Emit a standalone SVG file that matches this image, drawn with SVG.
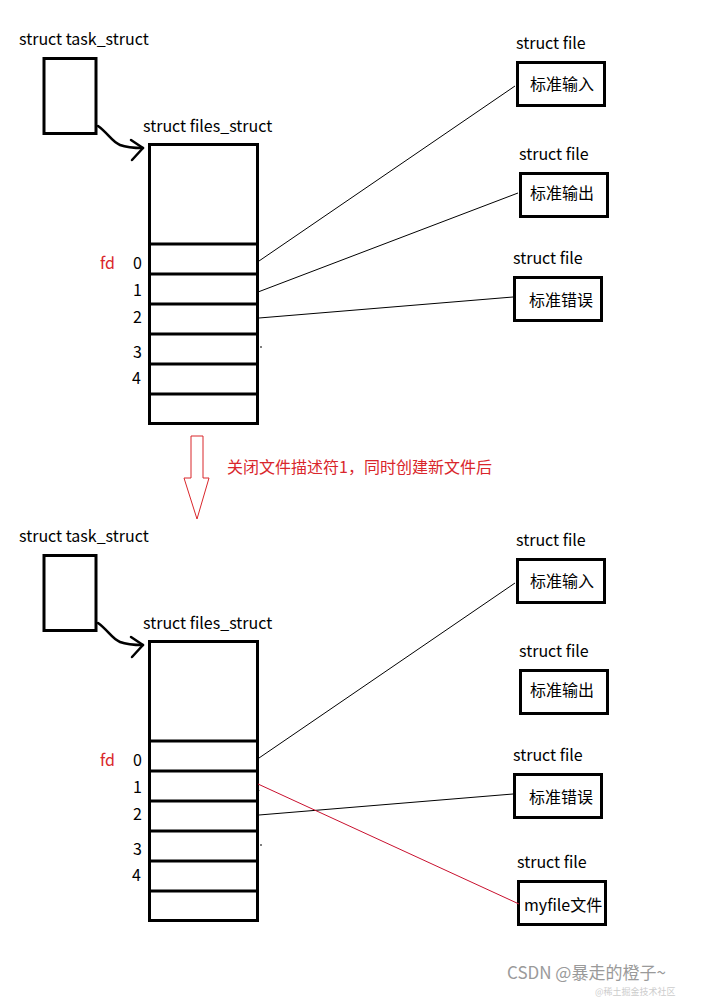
<svg xmlns="http://www.w3.org/2000/svg" width="709" height="999" viewBox="0 0 709 999">
<style>
.t{font-family:"Noto Sans CJK SC","Noto Sans",sans-serif;font-size:16px;fill:#000}
.r{fill:#d9262b}
.box{fill:#fff;stroke:#000;stroke-width:3}
.row{stroke:#000;stroke-width:3}
.ln{stroke:#000;stroke-width:1;fill:none}
.cv{stroke:#000;stroke-width:2.5;fill:none;stroke-linecap:round;stroke-linejoin:round}
.red{stroke:#c8102e;stroke-width:1;fill:none}
.wm{font-family:"Noto Sans CJK SC","Noto Sans",sans-serif;fill:#9a9a9a}
</style>
<rect width="709" height="999" fill="#fff"/>

<!-- TOP -->
<g id="task1">
<text class="t" x="19" y="45">struct task_struct</text>
<rect class="box" x="44" y="58.5" width="52" height="75"/>
</g>
<g id="files1">
<text class="t" x="143" y="132">struct files_struct</text>
<rect class="box" x="149.5" y="144.5" width="108" height="279"/>
<line class="row" x1="149" y1="244" x2="258" y2="244"/>
<line class="row" x1="149" y1="274" x2="258" y2="274"/>
<line class="row" x1="149" y1="304" x2="258" y2="304"/>
<line class="row" x1="149" y1="334" x2="258" y2="334"/>
<line class="row" x1="149" y1="364" x2="258" y2="364"/>
<line class="row" x1="149" y1="394" x2="258" y2="394"/>
<text class="t r" x="100" y="269">fd</text>
<text class="t" x="133" y="269">0</text>
<text class="t" x="133" y="296">1</text>
<text class="t" x="133" y="323">2</text>
<text class="t" x="133" y="358">3</text>
<text class="t" x="132" y="384">4</text>
</g>
<g id="file1a">
<text class="t" x="516" y="49">struct file</text>
<rect class="box" x="517.5" y="62.5" width="87" height="43"/>
<text class="t" x="530" y="90">标准输入</text>
</g>
<g id="file1b">
<text class="t" x="519" y="160">struct file</text>
<rect class="box" x="520.5" y="173.5" width="87" height="43"/>
<text class="t" x="530" y="199">标准输出</text>
</g>
<g id="file1c">
<text class="t" x="513" y="264">struct file</text>
<rect class="box" x="514.5" y="277.5" width="87" height="43"/>
<text class="t" x="529" y="306">标准错误</text>
</g>

<g id="connectors1">
<path class="cv" d="M98 126 C108 133 112 142 120 145 C128 148 135 148 143 148"/>
<path class="cv" d="M131 140 L143 148 L132 160"/>
<line class="ln" x1="259" y1="261" x2="515" y2="86"/>
<line class="ln" x1="258" y1="292" x2="518" y2="193"/>
<line class="ln" x1="259" y1="318" x2="513" y2="297"/>
<line class="ln" x1="260" y1="347" x2="262" y2="347"/>
</g>

<!-- transition arrow -->
<g id="transition">
<path d="M191 436 L203 436 L203 478 L209 478 L197 519 L184 478 L191 478 Z" fill="#fff" stroke="#d9262b" stroke-width="1"/>
<text class="t r" x="227" y="473">关闭文件描述符1，同时创建新文件后</text>
</g>

<!-- BOTTOM -->
<g id="task2">
<text class="t" x="19" y="542">struct task_struct</text>
<rect class="box" x="44" y="555.5" width="52" height="75"/>
</g>
<g id="files2">
<text class="t" x="143" y="629">struct files_struct</text>
<rect class="box" x="149.5" y="641.5" width="108" height="279"/>
<line class="row" x1="149" y1="741" x2="258" y2="741"/>
<line class="row" x1="149" y1="771" x2="258" y2="771"/>
<line class="row" x1="149" y1="801" x2="258" y2="801"/>
<line class="row" x1="149" y1="831" x2="258" y2="831"/>
<line class="row" x1="149" y1="861" x2="258" y2="861"/>
<line class="row" x1="149" y1="891" x2="258" y2="891"/>
<text class="t r" x="100" y="766">fd</text>
<text class="t" x="133" y="766">0</text>
<text class="t" x="133" y="793">1</text>
<text class="t" x="133" y="820">2</text>
<text class="t" x="133" y="855">3</text>
<text class="t" x="132" y="881">4</text>
</g>
<g id="file2a">
<text class="t" x="516" y="546">struct file</text>
<rect class="box" x="517.5" y="559.5" width="87" height="43"/>
<text class="t" x="530" y="587">标准输入</text>
</g>
<g id="file2b">
<text class="t" x="519" y="657">struct file</text>
<rect class="box" x="520.5" y="670.5" width="87" height="43"/>
<text class="t" x="530" y="696">标准输出</text>
</g>
<g id="file2c">
<text class="t" x="513" y="761">struct file</text>
<rect class="box" x="514.5" y="774.5" width="87" height="43"/>
<text class="t" x="529" y="803">标准错误</text>
</g>
<g id="file2d">
<text class="t" x="517" y="868">struct file</text>
<rect class="box" x="518.5" y="881.5" width="87" height="43"/>
<text class="t" x="524" y="911">myfile文件</text>
</g>

<g id="connectors2">
<path class="cv" d="M98 623 C108 630 112 639 120 642 C128 645 135 645 143 645"/>
<path class="cv" d="M131 637 L143 645 L132 657"/>
<line class="ln" x1="259" y1="758" x2="515" y2="583"/>
<line class="ln" x1="259" y1="815" x2="513" y2="794"/>
<line class="red" x1="258" y1="784" x2="519" y2="904"/>
<line class="ln" x1="258" y1="788" x2="259" y2="791"/>
<line class="ln" x1="260" y1="845" x2="262" y2="845"/>
</g>

<g id="watermark">
<text class="wm" x="507" y="979" font-size="17">CSDN @暴走的橙子~</text>
<text class="wm" x="595" y="995" font-size="9" opacity="0.5">@稀土掘金技术社区</text>
</g>
</svg>
